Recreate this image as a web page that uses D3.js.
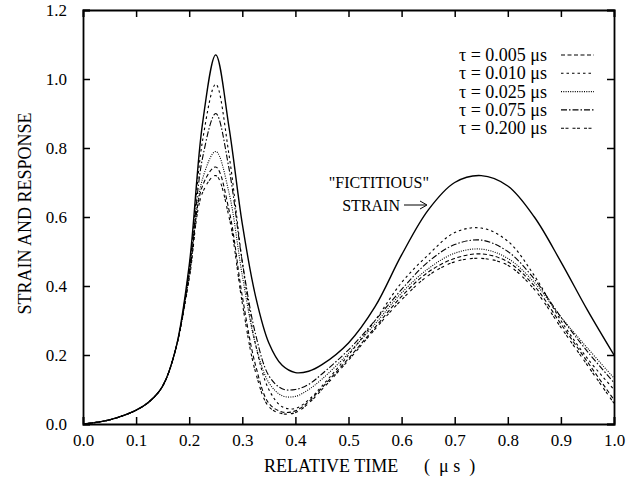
<!DOCTYPE html>
<html>
<head>
<meta charset="utf-8">
<script src="https://cdn.jsdelivr.net/npm/d3@7"></script>
<style>
  body { margin: 0; background: #fff; }
  svg text { font-family: "Liberation Serif" !important; }
</style>
</head>
<body>
<svg id="chart" width="627" height="487" font-family="Liberation Serif"></svg>
<script>
// Data
const times = [0, 0.05, 0.1, 0.125, 0.15, 0.175, 0.2, 0.225, 0.25, 0.275, 0.3, 0.325, 0.35, 0.375, 0.4,
  0.425, 0.45, 0.5, 0.55, 0.6, 0.65, 0.7, 0.75, 0.8, 0.85, 0.9, 0.95, 1.0];

const strain = [0, 0.012, 0.04, 0.065, 0.11, 0.22, 0.46, 0.87, 1.07, 0.86, 0.58, 0.37, 0.235, 0.17, 0.149,
  0.153, 0.172, 0.235, 0.34, 0.49, 0.62, 0.7, 0.72, 0.69, 0.6, 0.47, 0.33, 0.2];

const tau010 = [0, 0.012, 0.04, 0.065, 0.11, 0.22, 0.45, 0.82, 0.985, 0.78, 0.47, 0.23, 0.1, 0.05, 0.045,
  0.07, 0.11, 0.2, 0.3, 0.41, 0.49, 0.555, 0.568, 0.53, 0.43, 0.3, 0.19, 0.1];
const tau075 = [0, 0.012, 0.04, 0.065, 0.11, 0.22, 0.44, 0.77, 0.9, 0.74, 0.47, 0.26, 0.14, 0.102, 0.1,
  0.115, 0.145, 0.215, 0.3, 0.39, 0.47, 0.52, 0.533, 0.5, 0.42, 0.31, 0.21, 0.12];
const tau025 = [0, 0.012, 0.04, 0.065, 0.11, 0.22, 0.43, 0.71, 0.79, 0.67, 0.43, 0.23, 0.12, 0.082, 0.08,
  0.1, 0.13, 0.205, 0.29, 0.38, 0.45, 0.495, 0.507, 0.48, 0.41, 0.31, 0.22, 0.133];
const tau005 = [0, 0.012, 0.04, 0.065, 0.11, 0.22, 0.43, 0.69, 0.745, 0.62, 0.37, 0.17, 0.06, 0.035, 0.038,
  0.065, 0.105, 0.19, 0.28, 0.37, 0.44, 0.48, 0.493, 0.47, 0.4, 0.29, 0.18, 0.07];
const tau200 = [0, 0.012, 0.04, 0.065, 0.11, 0.22, 0.42, 0.67, 0.72, 0.6, 0.35, 0.15, 0.05, 0.03, 0.033,
  0.06, 0.1, 0.185, 0.275, 0.36, 0.43, 0.47, 0.48, 0.46, 0.39, 0.28, 0.17, 0.06];

const legendLabels = ["τ = 0.005 μs", "τ = 0.010 μs", "τ = 0.025 μs", "τ = 0.075 μs", "τ = 0.200 μs"];
const xTicks = [0, 0.1, 0.2, 0.3, 0.4, 0.5, 0.6, 0.7, 0.8, 0.9, 1.0];
const yTicks = [0, 0.2, 0.4, 0.6, 0.8, 1.0, 1.2];

// Chart Dimensions
const width = 627;
const height = 487;
const margin = { top: 10, right: 13, bottom: 63, left: 83 };
const fontName = "Liberation Serif";

const svg = d3.select("#chart");

const x = d3.scaleLinear().domain([0, 1]).range([margin.left, width - margin.right]);
const y = d3.scaleLinear().domain([0, 1.2]).range([height - margin.bottom, margin.top]);

// Series with their dash patterns
const series = [
  { values: tau005, dash: "4,2.5" },
  { values: tau010, dash: "2.5,3" },
  { values: tau025, dash: "1,1.3" },
  { values: tau075, dash: "6,2,1.5,2" },
  { values: tau200, dash: "3,1.5,3,4" },
];

const line = d3.line()
  .x((d, i) => x(times[i]))
  .y((d) => y(d))
  .curve(d3.curveCatmullRom.alpha(0.5));

// Response curves
svg.selectAll(".resp")
  .data(series)
  .enter()
  .append("path")
  .attr("class", "resp")
  .attr("d", (d) => line(d.values))
  .attr("fill", "none")
  .attr("stroke", "#000")
  .attr("stroke-width", 1.1)
  .attr("stroke-dasharray", (d) => d.dash);

// Fictitious strain
svg.append("path")
  .attr("d", line(strain))
  .attr("fill", "none")
  .attr("stroke", "#000")
  .attr("stroke-width", 1.4);

// Axes (ticks inward on all sides)
const tickLen = 7;
const fixAxis = (g) => g.attr("font-family", fontName).attr("font-size", 17);
svg.append("g")
  .attr("transform", `translate(0,${y(0)})`)
  .call(d3.axisBottom(x).tickValues(xTicks).tickSize(-tickLen).tickPadding(10).tickFormat(d3.format(".1f")))
  .call(fixAxis);
svg.append("g")
  .attr("transform", `translate(0,${y(1.2)})`)
  .call(d3.axisTop(x).tickValues(xTicks).tickSize(-tickLen).tickFormat(""));
svg.append("g")
  .attr("transform", `translate(${x(0)},0)`)
  .call(d3.axisLeft(y).tickValues(yTicks).tickSize(-tickLen).tickPadding(16).tickFormat(d3.format(".1f")))
  .call(fixAxis);
svg.append("g")
  .attr("transform", `translate(${x(1)},0)`)
  .call(d3.axisRight(y).tickValues(yTicks).tickSize(-tickLen).tickFormat(""));

svg.selectAll(".domain").attr("stroke-width", 1.8);
svg.selectAll(".tick line").attr("stroke-width", 1.5);

// Axis titles
svg.append("text")
  .attr("x", 264)
  .attr("y", 472)
  .attr("font-family", fontName)
  .attr("font-size", 18)
  .text("RELATIVE TIME");
svg.append("text")
  .attr("x", 424)
  .attr("y", 472)
  .attr("font-family", fontName)
  .attr("font-size", 18)
  .style("white-space", "pre")
  .text("(  μ s  )");
svg.append("text")
  .attr("transform", `translate(31,${y(0.61)}) rotate(-90)`)
  .attr("text-anchor", "middle")
  .attr("font-family", fontName)
  .attr("font-size", 18)
  .text("STRAIN AND RESPONSE");

// Legend
const legendRow = svg.append("g")
  .selectAll("g")
  .data(series)
  .enter()
  .append("g")
  .attr("transform", (d, i) => `translate(0,${55 + i * 18.3})`);
legendRow.append("text")
  .attr("x", 547)
  .attr("y", 6)
  .attr("text-anchor", "end")
  .attr("font-family", fontName)
  .attr("font-size", 18)
  .text((d, i) => legendLabels[i]);
legendRow.append("line")
  .attr("x1", 561)
  .attr("x2", 594)
  .attr("stroke", "#000")
  .attr("stroke-width", 1.1)
  .attr("stroke-dasharray", (d) => d.dash);

// Annotation
svg.append("text")
  .attr("x", 429)
  .attr("y", 188)
  .attr("text-anchor", "end")
  .attr("font-family", fontName)
  .attr("font-size", 16)
  .text("\"FICTITIOUS\"");
svg.append("text")
  .attr("x", 400)
  .attr("y", 211)
  .attr("text-anchor", "end")
  .attr("font-family", fontName)
  .attr("font-size", 16)
  .text("STRAIN");
svg.append("line")
  .attr("x1", 404).attr("y1", 205).attr("x2", 426).attr("y2", 205)
  .attr("stroke", "#000").attr("stroke-width", 1);
svg.append("path")
  .attr("d", "M420,201 L427,205 L420,209")
  .attr("fill", "none").attr("stroke", "#000").attr("stroke-width", 1);
</script>
</body>
</html>
